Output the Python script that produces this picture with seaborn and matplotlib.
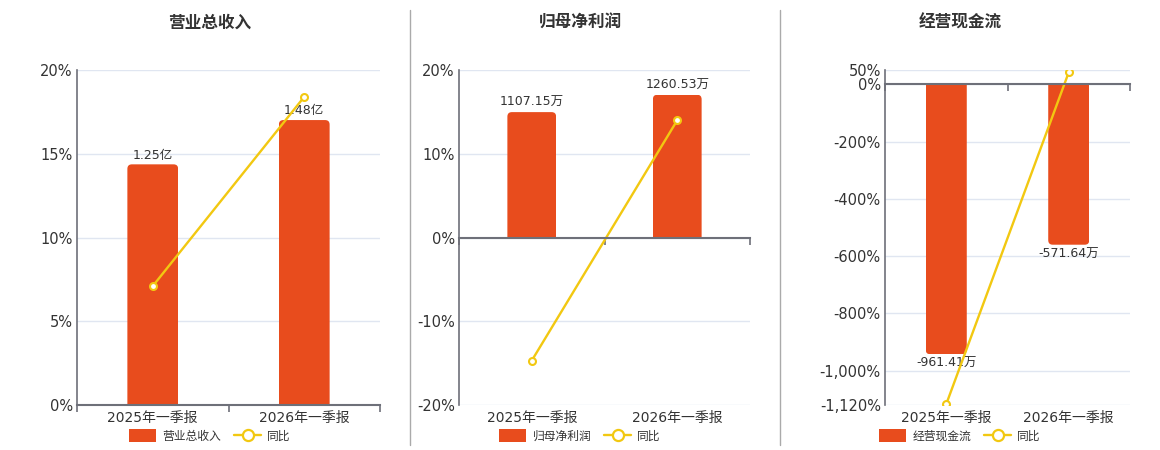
import matplotlib
matplotlib.use("Agg")
import matplotlib.pyplot as plt
import seaborn as sns
from matplotlib.patches import Patch, FancyBboxPatch
from matplotlib.lines import Line2D
from matplotlib.ticker import FuncFormatter, FixedLocator

sns.set_theme(style="white")
plt.rcParams['font.family'] = ['DejaVu Sans', 'Noto Sans CJK SC']

# ---------------- data ----------------
categories = ["2025年一季报", "2026年一季报"]

titles = ["营业总收入", "归母净利润", "经营现金流"]

revenue = [1.25, 1.48]          # 亿
revenue_yoy = [7.1, 18.4]       # %
profit = [1107.15, 1260.53]     # 万
profit_yoy = [-14.7, 14.0]      # %
cashflow = [-961.41, -571.64]   # 万
cashflow_yoy = [-1117.0, 42.0]  # %

units = ["亿", "万", "万"]
bar_values = [revenue, profit, cashflow]
yoy_values = [revenue_yoy, profit_yoy, cashflow_yoy]

pct_ticks = [[0, 5, 10, 15, 20],
             [-20, -10, 0, 10, 20],
             [50, 0, -200, -400, -600, -800, -1000, -1120]]
pct_lims = [(0, 20), (-20, 20), (-1120, 50)]
bar_lims = [(0, 1.74), (-1479, 1479), (-1142, 50)]

# ---------------- style ----------------
BAR = "#E84C1D"
LINE = "#F2C811"
AXIS = "#6E7079"
GRID = "#E0E6F1"
TXT = "#333333"

W, H = 1160, 450
fig = plt.figure(figsize=(W / 100, H / 100), dpi=100)

axes_px = [(77, 380), (459, 750), (885, 1130)]
top_px, bot_px = 70, 405
title_x = [210, 580, 960]
legend_x = [210, 580, 960]
RADIUS_PX = 4.5


def round_bars(ax, container, xlim, ylim, wpx, hpx):
    """Replace bar rectangles with versions rounded at their far end."""
    xu = (xlim[1] - xlim[0]) / wpx
    yu = (ylim[1] - ylim[0]) / hpx
    r = RADIUS_PX * xu
    aspect = (RADIUS_PX * yu) / r
    ry = RADIUS_PX * yu
    for rect in container:
        x, y = rect.get_x(), rect.get_y()
        w, h = rect.get_width(), rect.get_height()
        if h >= 0:
            y0, hh = y - ry * 2, h + ry * 2
        else:
            y0, hh = y + h, -h + ry * 2
        fb = FancyBboxPatch((x, y0), w, hh,
                            boxstyle=f"round,pad=0,rounding_size={r}",
                            mutation_aspect=aspect, facecolor=BAR,
                            edgecolor="none", zorder=rect.get_zorder())
        ax.add_patch(fb)
        fb.set_clip_path(rect)
        rect.set_alpha(0)


for i in range(3):
    l, r = axes_px[i]
    rect = [l / W, 1 - bot_px / H, (r - l) / W, (bot_px - top_px) / H]
    ax_bar = fig.add_axes(rect)
    ax_bar.set_facecolor("none")

    sns.barplot(x=categories, y=bar_values[i], ax=ax_bar, color=BAR,
                width=0.335, saturation=1, edgecolor="none")
    ax_bar.set_xlim(-0.5, 1.5)
    b0, b1 = bar_lims[i]
    ax_bar.set_ylim(b0, b1)

    # bar labels
    labels = [f"{v:g}{units[i]}" if units[i] == "亿" else f"{v:.2f}{units[i]}"
              for v in bar_values[i]]
    ax_bar.bar_label(ax_bar.containers[0], labels=labels, padding=2,
                     fontsize=9, color=TXT)
    round_bars(ax_bar, ax_bar.containers[0], (-0.5, 1.5), (b0, b1),
               r - l, bot_px - top_px)

    # grid lines on the bar axis at the percent tick positions
    p0, p1 = pct_lims[i]
    conv = [b0 + (t - p0) / (p1 - p0) * (b1 - b0) for t in pct_ticks[i]]
    ax_bar.yaxis.set_major_locator(FixedLocator(conv))
    ax_bar.grid(axis="y", color=GRID, lw=1)
    ax_bar.grid(axis="x", visible=False)
    ax_bar.tick_params(axis="y", length=0, labelleft=False)
    ax_bar.tick_params(axis="x", which="major", length=0, labelsize=10,
                       labelcolor=TXT, pad=4)
    for s in ["top", "right", "left", "bottom"]:
        ax_bar.spines[s].set_visible(False)
    ax_bar.set_xlabel("")
    ax_bar.set_ylabel("")

    # line axis (percent, visible on the left)
    ax_line = ax_bar.twinx()
    ax_line.yaxis.tick_left()
    ax_line.yaxis.set_label_position("left")
    sns.lineplot(x=categories, y=yoy_values[i], ax=ax_line, color=LINE,
                 lw=1.7, marker="o", markersize=5, markerfacecolor="white",
                 markeredgecolor=LINE, markeredgewidth=1.5, sort=False)
    ax_line.set_xlim(-0.5, 1.5)
    ax_line.set_ylim(p0, p1)
    ax_line.set_yticks(pct_ticks[i])
    ax_line.yaxis.set_major_formatter(FuncFormatter(lambda v, _: f"{v:,.0f}%"))
    ax_line.tick_params(axis="y", length=0, labelsize=10.5, labelcolor=TXT, pad=3)
    ax_line.set_ylabel("")
    ax_line.set_xlabel("")

    ax_line.xaxis.set_visible(True)
    ax_line.set_xticks([-0.5, 0.5, 1.5], minor=True)
    ax_line.tick_params(axis="x", which="major", length=0, labelbottom=False)
    ax_line.tick_params(axis="x", which="minor", length=5, width=1.2,
                        color=AXIS, direction="out", bottom=True)
    ax_line.spines["bottom"].set_position(("data", 0))
    ax_line.spines["bottom"].set_color(AXIS)
    ax_line.spines["bottom"].set_linewidth(1.5)
    ax_line.spines["left"].set_color(AXIS)
    ax_line.spines["left"].set_linewidth(1.2)
    for s in ["top", "right"]:
        ax_line.spines[s].set_visible(False)

    # title
    fig.text(title_x[i] / W, 1 - 23 / H, titles[i], ha="center", va="center",
             fontsize=12, fontweight="bold", color=TXT)

    # legend
    handles = [Patch(facecolor=BAR, edgecolor="none"),
               Line2D([0], [0], color=LINE, lw=1.7, marker="o", markersize=8,
                      markerfacecolor="white", markeredgecolor=LINE,
                      markeredgewidth=1.6)]
    fig.legend(handles, [titles[i], "同比"], loc="center",
               bbox_to_anchor=(legend_x[i] / W, 1 - 436 / H), ncol=2,
               frameon=False, fontsize=8.5, handlelength=2.3,
               handleheight=1.2, columnspacing=1.1, handletextpad=0.5,
               labelcolor=TXT, borderpad=0.2)

# separators between panels
for xs in [410, 780]:
    fig.add_artist(Line2D([xs / W, xs / W], [1 - 10 / H, 1 - 445 / H],
                          color="#AAAAAA", lw=1))

fig.savefig("out.png", dpi=100)
